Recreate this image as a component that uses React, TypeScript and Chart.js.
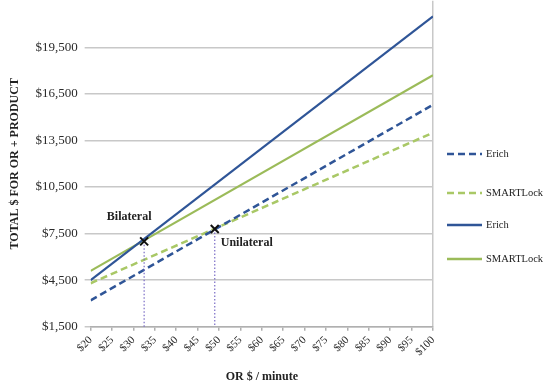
import React, { useEffect, useRef } from "react";
import { Chart, registerables } from "chart.js";

Chart.register(...registerables);

const xRange = [20, 100];
const erichUnilateral = [3200, 15800];
const smartUnilateral = [4300, 14000];
const erichBilateral = [4500, 21500];
const smartBilateral = [5100, 17700];

const crossX = [32.5, 49];
const crossY = [7000, 7800];
const crossLabels = ["Bilateral", "Unilateral"];

const legendNames = ["Erich", "SMARTLock", "Erich", "SMARTLock"];

const BLUE = "#2f5597";
const GREEN = "#9bbb59";
const GREEN_DASH = "#a9c866";
const DOT = "#7a6cc6";
const SERIF = "'Liberation Serif', 'DejaVu Serif', serif";
const SHIFT = 14;

const pairs = (ys: number[]) => xRange.map((x, i) => ({ x, y: ys[i] }));

const overlayPlugin = {
  id: "overlay",
  afterDatasetsDraw(chart: any) {
    const { ctx, scales } = chart;
    const xs = scales.x;
    const ys = scales.y;
    ctx.save();
    ctx.strokeStyle = DOT;
    ctx.lineWidth = 1.2;
    ctx.setLineDash([1.5, 2]);
    crossX.forEach((cx, i) => {
      const px = xs.getPixelForValue(cx);
      ctx.beginPath();
      ctx.moveTo(px, ys.getPixelForValue(crossY[i]));
      ctx.lineTo(px, ys.getPixelForValue(1500));
      ctx.stroke();
    });
    ctx.setLineDash([]);
    ctx.strokeStyle = "#111";
    ctx.lineWidth = 2;
    crossX.forEach((cx, i) => {
      const px = xs.getPixelForValue(cx);
      const py = ys.getPixelForValue(crossY[i]);
      const r = 4;
      ctx.beginPath();
      ctx.moveTo(px - r, py - r);
      ctx.lineTo(px + r, py + r);
      ctx.moveTo(px + r, py - r);
      ctx.lineTo(px - r, py + r);
      ctx.stroke();
    });
    ctx.fillStyle = "#222";
    ctx.font = `bold 12px ${SERIF}`;
    ctx.textBaseline = "middle";
    {
      const px = xs.getPixelForValue(crossX[0]);
      const py = ys.getPixelForValue(crossY[0]);
      ctx.textAlign = "center";
      ctx.fillText(crossLabels[0], px - 15, py - 24);
    }
    {
      const px = xs.getPixelForValue(crossX[1]);
      const py = ys.getPixelForValue(crossY[1]);
      ctx.textAlign = "left";
      ctx.fillText(crossLabels[1], px + 6, py + 14);
    }
    const legendY = [154, 193, 225, 259];
    chart.data.datasets.slice(0, 4).forEach((ds: any, i: number) => {
      const y = legendY[i] + SHIFT;
      ctx.strokeStyle = ds.borderColor;
      ctx.lineWidth = 2.5;
      ctx.setLineDash(ds.borderDash || []);
      ctx.beginPath();
      ctx.moveTo(447, y);
      ctx.lineTo(482, y);
      ctx.stroke();
      ctx.setLineDash([]);
      ctx.fillStyle = "#222";
      ctx.font = `10.5px ${SERIF}`;
      ctx.textAlign = "left";
      ctx.fillText(legendNames[i], 486, y);
    });
    ctx.restore();
  },
};

export default function App() {
  const ref = useRef<HTMLCanvasElement>(null);
  useEffect(() => {
    document.body.style.margin = "0";
    const chart = new Chart(ref.current!, {
      type: "line",
      data: {
        datasets: [
          { label: legendNames[0], data: pairs(erichUnilateral), borderColor: BLUE, borderWidth: 2.5, borderDash: [7, 4], pointRadius: 0 },
          { label: legendNames[1], data: pairs(smartUnilateral), borderColor: GREEN_DASH, borderWidth: 2.5, borderDash: [7, 4], pointRadius: 0 },
          { label: legendNames[2], data: pairs(erichBilateral), borderColor: BLUE, borderWidth: 2.2, pointRadius: 0 },
          { label: legendNames[3], data: pairs(smartBilateral), borderColor: GREEN, borderWidth: 2.2, pointRadius: 0 },
        ],
      },
      options: {
        animation: false,
        responsive: false,
        layout: { padding: { left: 8, right: 117, top: 0, bottom: 0 } },
        plugins: { legend: { display: false }, tooltip: { enabled: false } },
        scales: {
          x: {
            type: "linear",
            min: 20,
            max: 100,
            ticks: {
              stepSize: 5,
              autoSkip: false,
              minRotation: 45,
              maxRotation: 45,
              color: "#2a2a2a",
              font: { family: SERIF, size: 11 },
              callback: (v: any) => "$" + v,
            },
            grid: {
              drawOnChartArea: true,
              color: (c: any) => (c.tick && c.tick.value === 100 ? "#c8c8c8" : "rgba(0,0,0,0)"),
              lineWidth: 1.5,
              tickColor: "#b0b0b0",
              tickLength: 4,
            },
            border: { color: "#b0b0b0", width: 1.5 },
            title: {
              display: true,
              text: "OR $ / minute",
              color: "#222",
              font: { family: SERIF, size: 12, weight: "bold" },
              padding: { top: 8, bottom: 2 },
            },
          },
          y: {
            min: 1500,
            max: 22500,
            ticks: {
              stepSize: 3000,
              color: "#2a2a2a",
              font: { family: SERIF, size: 13 },
              padding: 7,
              callback: (v: any) => (v >= 22500 ? "" : "$" + Number(v).toLocaleString("en-US")),
            },
            grid: {
              color: (c: any) => (c.tick && c.tick.value >= 22500 ? "rgba(0,0,0,0)" : "#c8c8c8"),
              lineWidth: 1.5,
              tickLength: 6,
            },
            border: { display: false },
            title: {
              display: true,
              text: "TOTAL $ FOR OR + PRODUCT",
              color: "#222",
              font: { family: SERIF, size: 12, weight: "bold" },
              padding: { top: 0, bottom: 6 },
            },
          },
        },
      },
      plugins: [overlayPlugin],
    } as any);
    return () => chart.destroy();
  }, []);
  return (
    <div style={{ position: "absolute", left: 0, top: 0, width: 550, height: 386, overflow: "hidden", background: "#fff" }}>
      <canvas ref={ref} width={550} height={386 + SHIFT} style={{ position: "absolute", left: 0, top: -SHIFT }} />
    </div>
  );
}
